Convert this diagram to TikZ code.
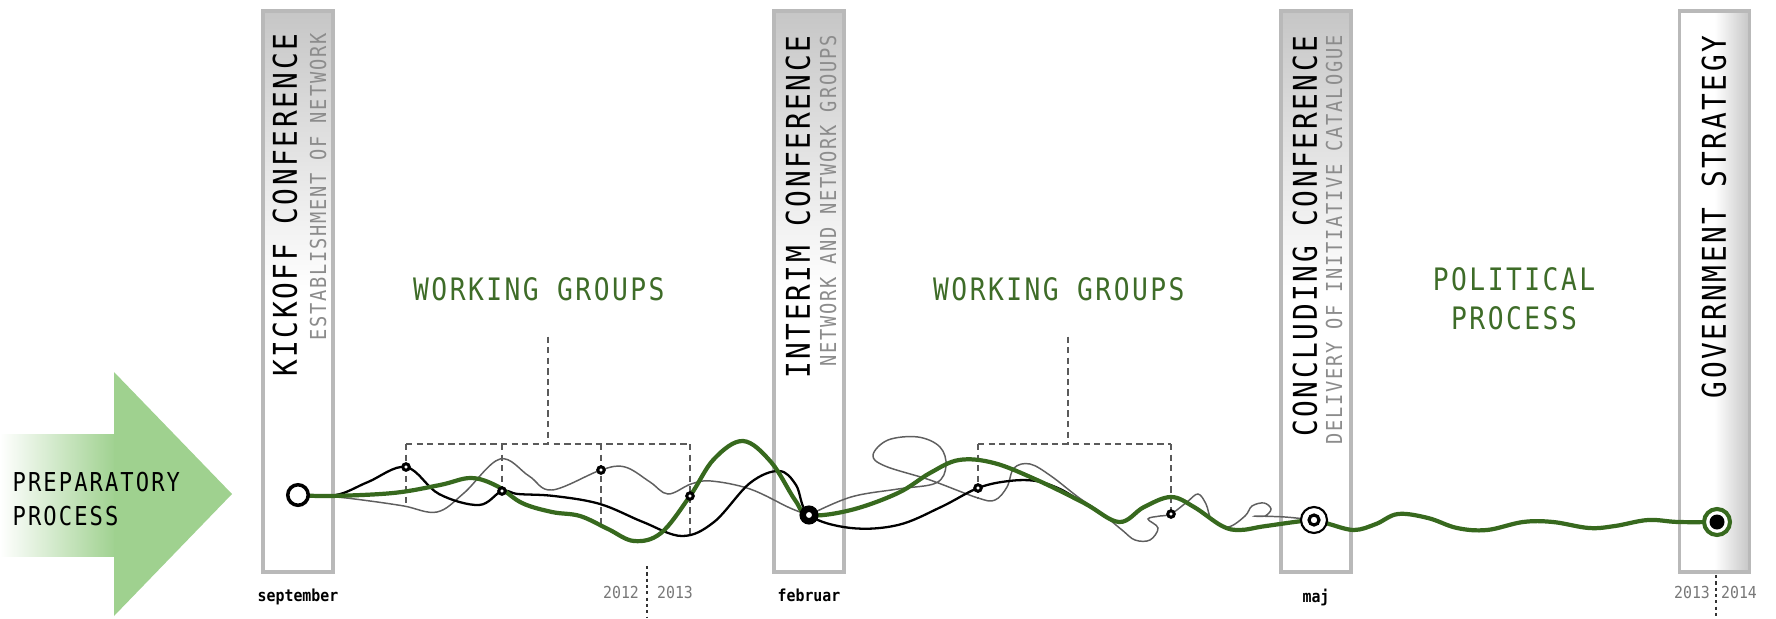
\documentclass[tikz,border=0pt]{standalone}
\usepackage{fontspec}
\setmainfont{DejaVu Sans Mono}[FakeStretch=0.85,LetterSpace=8]
\newfontfamily\datefont{DejaVu Sans Mono}[FakeStretch=0.9]
\usepackage{xcolor}
\usepackage{tikz}
\usetikzlibrary{positioning,shapes}

\definecolor{arrowgreen}{RGB}{159,209,143}
\definecolor{linegreen}{RGB}{55,105,30}
\definecolor{textgreen}{RGB}{62,108,40}
\definecolor{barline}{RGB}{185,185,185}
\definecolor{barfill}{RGB}{198,198,198}
\definecolor{subgray}{RGB}{140,140,140}
\definecolor{curvegray}{RGB}{95,95,95}
\definecolor{dashgray}{RGB}{90,90,90}
\definecolor{yeargray}{RGB}{120,120,120}

\begin{document}
\begin{tikzpicture}
[x=0.01cm, y=-0.01cm,
    every node/.style={inner sep=0pt},
    bar/.style={rectangle, draw=barline, line width=1pt, top color=barfill,
        bottom color=white, middle color=white, minimum width=7mm, minimum height=56.1mm},
    govbar/.style={bar, left color=white, right color=barfill, middle color=white},
    bartitle/.style={rotate=90, anchor=east, font=\fontsize{9.3pt}{11pt}\selectfont, text=black},
    barsub/.style={rotate=90, anchor=east, font=\fontsize{6.25pt}{7pt}\selectfont, text=subgray},
    phase/.style={font=\fontsize{8.8pt}{11pt}\selectfont, text=textgreen, align=center},
    prep/.style={font=\fontsize{7.4pt}{9.7pt}\selectfont, text=black, align=left, anchor=west},
    month/.style={font=\datefont\bfseries\fontsize{4.7pt}{5pt}\selectfont},
    yearlabel/.style={font=\datefont\fontsize{4.7pt}{5pt}\selectfont, text=yeargray},
    bracket/.style={draw=dashgray, line width=0.45pt, dash pattern=on 1.8pt off 1.2pt},
    yeardiv/.style={draw=black!80, line width=0.4pt, dash pattern=on 0.9pt off 0.9pt},
    greenline/.style={draw=linegreen, line width=1.2pt, line cap=round},
    blackline/.style={draw=black, line width=0.65pt},
    grayline/.style={draw=curvegray, line width=0.42pt},
    startring/.style={circle, draw=black, line width=1pt, fill=white, minimum size=2.05mm},
    midring/.style={circle, draw=black, line width=1.85pt, fill=white, minimum size=1.25mm},
    endring/.style={circle, draw=black, line width=0.6pt, fill=white, minimum size=2.6mm},
    endcore/.style={circle, draw=black, line width=0.9pt, fill=white, minimum size=1mm},
    govring/.style={circle, draw=linegreen, line width=1.15pt, fill=white, minimum size=2.6mm},
    govcore/.style={circle, fill=black, minimum size=1.5mm},
    wgdot/.style={circle, draw=black, line width=0.85pt, fill=white, minimum size=0.65mm}
    ]
    \useasboundingbox (0,0) rectangle (1776,618);

    % preparatory arrow
    \shade[left color=white, right color=arrowgreen] (0,434) rectangle (116,556);
    \fill[arrowgreen] (114,372) -- (232,494) -- (114,616) -- cycle;
    \node[prep] (prepare) at (12,499) { PREPARATORY\\PROCESS };

    % conference bars
    \node[bar] (kickbar) at (298,291.5) {};
    \node[bar] (interimbar) at (809,291.5) {};
    \node[bar] (conclbar) at (1316,291.5) {};
    \node[govbar] (govbar) at (1714.5,291.5) {};

    \node[bartitle] (kicktitle) at (285,33) { KICKOFF CONFERENCE };
    \node[barsub] (kicksub) at (318,33) { ESTABLISHMENT OF NETWORK };
    \node[bartitle] (interimtitle) at (798,35) { INTERIM CONFERENCE };
    \node[barsub] (interimsub) at (828,35) { NETWORK AND NETWORK GROUPS };
    \node[bartitle] (concltitle) at (1305,35) { CONCLUDING CONFERENCE };
    \node[barsub] (conclsub) at (1334,35) { DELIVERY OF INITIATIVE CATALOGUE };
    \node[bartitle] (govtitle) at (1714,35) { GOVERNMENT STRATEGY };

    \node[phase] (wg1) at (548,289) { WORKING GROUPS };
    \node[phase] (wg2) at (1068,289) { WORKING GROUPS };
    \node[phase] (politics) at (1514,299) { POLITICAL\\PROCESS };

    \coordinate (kick) at (298,495);
    \coordinate (interim) at (809,515);
    \coordinate (concl) at (1314,520);
    \coordinate (gov) at (1717,522);
    \coordinate (w1) at (406,467);
    \coordinate (w2) at (502,491);
    \coordinate (w3) at (601,470);
    \coordinate (w4) at (690,496);
    \coordinate (w5) at (978,488);
    \coordinate (w6) at (1171,514);
    \coordinate (b1) at (548,444);
    \coordinate (b2) at (1068,444);

    % dashed brackets
    \draw[bracket] ([yshift=-10pt]wg1.south) -- (b1);
    \draw[bracket] (w1 |- b1) -- (w4 |- b1);
    \draw[bracket] (w1 |- b1) -- (406,507);
    \draw[bracket] (w2 |- b1) -- (w2);
    \draw[bracket] (w3 |- b1) -- (601,525);
    \draw[bracket] (w4 |- b1) -- (690,535);
    \draw[bracket] ([yshift=-10pt]wg2.south) -- (b2);
    \draw[bracket] (w5 |- b2) -- (w6 |- b2);
    \draw[bracket] (w5 |- b2) -- (978,499);
    \draw[bracket] (w6 |- b2) -- (w6);

    % process lines
    \draw[grayline] plot[smooth, tension=0.6] coordinates {(kick) (336,497) (370,501)
        (404,506) (437,512) (464,493) (500,459) (529,476) (552,490) (601,470) (625,467)
        (650,482) (668,494) (691,484) (711,481) (750,489) (790,508) (interim)};
    \draw[grayline] plot[smooth, tension=0.6] coordinates {(interim) (851,497) (898,489)
        (936,483) (946,466) (940,447) (918,437) (888,440) (873,455) (885,466) (930,480)
        (978,498) (995,500) (1007,487) (1014,468) (1030,464) (1051,476) (1078,497)
        (1100,512) (1122,530) (1135,540) (1150,540) (1158,528) (1148,519) (1160,516)
        (w6) (1187,502) (1198,494) (1206,504) (1212,520) (1228,527) (1245,516) (1252,506)
        (1264,503) (1271,509) (1265,516) (1255,516) (1285,517) (concl)};
    \draw[blackline] plot[smooth, tension=0.6] coordinates {(kick) (336,495) (368,482)
        (w1) (439,494) (479,505) (w2) (518,494) (554,496) (600,504) (643,522) (682,536)
        (714,522) (750,483) (779,471) (796,485) (interim) (851,528) (898,525) (941,507)
        (w5) (1009,481) (1036,481) (1060,489) (1080,501)};
    \draw[greenline] plot[smooth, tension=0.6] coordinates {(kick) (330,496) (393,493)
        (440,485) (471,478) (497,486) (522,503) (552,512) (580,516) (608,529) (634,541)
        (661,533) (w4) (714,459) (743,441) (771,462) (795,500) (interim) (851,510)
        (898,493) (930,473) (959,460) (994,463) (1037,480) (1084,503) (1119,522)
        (1144,507) (1171,497) (1194,507) (1222,526) (1240,530) (1266,526) (concl)
        (1329,524) (1354,530) (1376,524) (1398,514) (1428,518) (1457,528) (1487,530)
        (1523,522) (1553,522) (1589,528) (1615,526) (1648,520) (1678,522) (gov)};

    % milestones
    \foreach \w in {w1,w2,w3,w4,w5,w6}
        \node[wgdot] (\w dot) at (\w) {};
    \node[startring] (kickoff) at (kick) {};
    \node[midring] (interimring) at (interim) {};
    \node[endring] (conclring) at (concl) {};
    \node[endcore] (conclcore) at (concl) {};
    \node[govring] (govring) at (gov) {};
    \node[govcore] (govcore) at (gov) {};

    % dates
    \node[month, below=4pt of kickbar] (september) { september };
    \node[month, below=4pt of interimbar] (februar) { februar };
    \node[month, below=4pt of conclbar] (maj) { maj };
    \node[yearlabel] (y2012) at (621,592) { 2012 };
    \node[yearlabel] (y2013a) at (675,592) { 2013 };
    \node[yearlabel] (y2013b) at (1692,592) { 2013 };
    \node[yearlabel] (y2014) at (1739,592) { 2014 };
    \coordinate (div1) at (647,566);
    \coordinate (div2) at (1716,575);
    \draw[yeardiv] (div1) -- (div1 |- 0,618);
    \draw[yeardiv] (div2) -- (div2 |- 0,618);
\end{tikzpicture}
\end{document}
